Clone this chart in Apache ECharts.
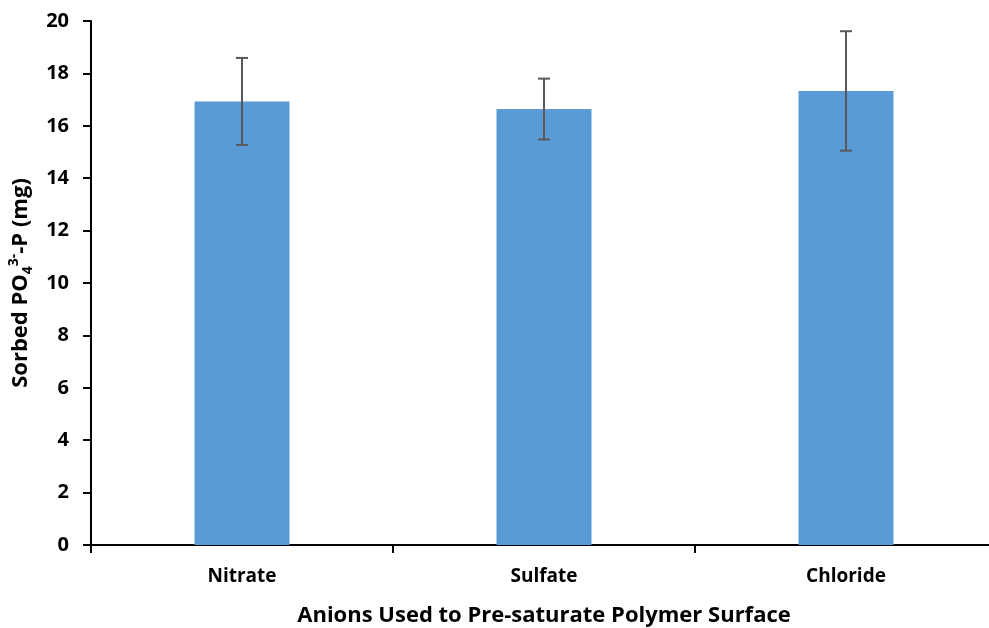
<!DOCTYPE html>
<html>
<head>
<meta charset="utf-8">
<script src="https://cdn.jsdelivr.net/npm/echarts@6/dist/echarts.min.js"></script>
<style>
html,body{margin:0;padding:0;background:#fff;}
#chart{width:989px;height:628px;}
</style>
</head>
<body>
<div id="chart"></div>
<script>
var categories = ['Nitrate', 'Sulfate', 'Chloride'];
var means = [16.93, 16.64, 17.33];
var errors = [1.66, 1.16, 2.28];
var yTicks = [0, 2, 4, 6, 8, 10, 12, 14, 16, 18, 20];

var FONT = '"Open Sans"';
var chart = echarts.init(document.getElementById('chart'));
var errData = categories.map(function (c, i) { return [i, means[i] - errors[i], means[i] + errors[i]]; });

chart.setOption({
  animation: false,
  backgroundColor: '#ffffff',
  grid: { left: 91, top: 21, width: 906, bottom: 83, containLabel: false, outerBoundsMode: 'none' },
  xAxis: {
    type: 'category',
    data: categories,
    name: 'Anions Used to Pre-saturate Polymer Surface',
    nameLocation: 'middle',
    nameGap: 60,
    nameTextStyle: { fontFamily: FONT, fontWeight: 'bold', fontSize: 22, color: '#000' },
    axisLine: { lineStyle: { color: '#000', width: 2 } },
    axisTick: { show: true, length: 8, lineStyle: { color: '#000', width: 2 } },
    axisLabel: { fontFamily: FONT, fontWeight: 'bold', fontSize: 19, color: '#000', margin: 22 },
    splitLine: { show: false }
  },
  yAxis: {
    type: 'value',
    min: yTicks[0],
    max: yTicks[yTicks.length - 1],
    interval: 2,
    name: '{b|Sorbed PO}{sub|4}{sup|3-}{b|-P (mg)}',
    nameLocation: 'middle',
    nameGap: 54,
    nameRotate: 90,
    nameTextStyle: {
      rich: {
        b: { fontFamily: FONT, fontWeight: 'bold', fontSize: 22, color: '#000', lineHeight: 32 },
        sub: { fontFamily: FONT, fontWeight: 'bold', fontSize: 14, color: '#000', lineHeight: 32, padding: [14, 0, 0, 0] },
        sup: { fontFamily: FONT, fontWeight: 'bold', fontSize: 14, color: '#000', lineHeight: 32, padding: [0, 0, 14, 0] }
      }
    },
    axisLine: { show: true, lineStyle: { color: '#000', width: 2 } },
    axisTick: { show: true, length: 8, lineStyle: { color: '#000', width: 2 } },
    axisLabel: { fontFamily: FONT, fontWeight: 'bold', fontSize: 20, color: '#000', margin: 22 },
    splitLine: { show: false }
  },
  series: [
    {
      type: 'bar',
      data: means,
      barWidth: 95,
      itemStyle: { color: '#5B9BD5' },
      z: 2
    },
    {
      type: 'custom',
      data: errData,
      z: 5,
      renderItem: function (params, api) {
        var x = api.value(0);
        var lo = api.coord([x, api.value(1)]);
        var hi = api.coord([x, api.value(2)]);
        var hw = 6;
        var st = { stroke: '#595959', lineWidth: 2 };
        return {
          type: 'group',
          children: [
            { type: 'line', shape: { x1: hi[0], y1: hi[1], x2: lo[0], y2: lo[1] }, style: st },
            { type: 'line', shape: { x1: hi[0] - hw, y1: hi[1], x2: hi[0] + hw, y2: hi[1] }, style: st },
            { type: 'line', shape: { x1: lo[0] - hw, y1: lo[1], x2: lo[0] + hw, y2: lo[1] }, style: st }
          ]
        };
      }
    }
  ]
});
</script>
</body>
</html>
